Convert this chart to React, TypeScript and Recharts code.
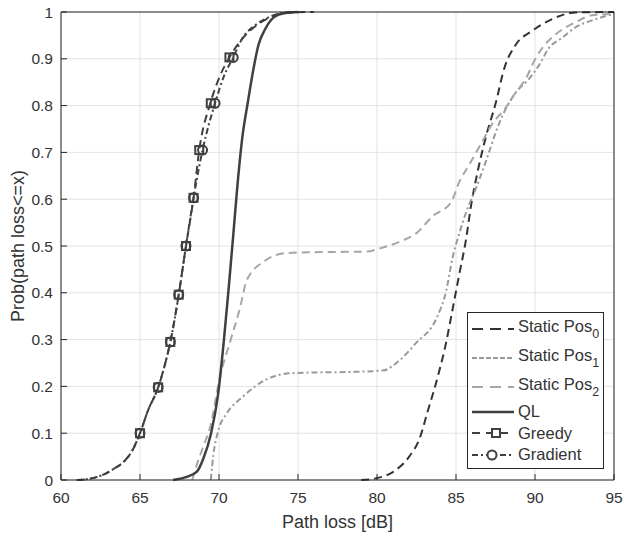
import React from 'react';
import { ComposedChart, Line, Scatter, XAxis, YAxis, CartesianGrid, Label } from 'recharts';

// [path loss dB, cumulative probability]
const STATIC_POS0: [number, number][] = [
  [79.0, 0], [80.0, 0.004], [81.0, 0.017], [82.06, 0.051], [82.69, 0.088], [83.21, 0.147],
  [83.84, 0.22], [84.37, 0.293], [84.79, 0.366], [85.21, 0.44], [85.63, 0.513], [85.95, 0.586],
  [86.37, 0.659], [86.89, 0.733], [87.52, 0.806], [88.05, 0.879], [88.78, 0.93], [89.83, 0.96],
  [91.09, 0.985], [92.56, 0.999], [95.0, 1],
];

const STATIC_POS1: [number, number][] = [
  [69.48, 0], [69.65, 0.055], [69.96, 0.106], [70.49, 0.142], [71.54, 0.179], [73.0, 0.215],
  [74.47, 0.228], [76.5, 0.23], [78.5, 0.231], [80.38, 0.234], [81.43, 0.256], [82.48, 0.293],
  [83.74, 0.344], [84.37, 0.403], [84.79, 0.476], [85.21, 0.527], [85.63, 0.571], [86.26, 0.623],
  [86.89, 0.681], [87.73, 0.762], [88.78, 0.828], [89.62, 0.857], [90.25, 0.886], [90.88, 0.923],
  [91.72, 0.945], [92.56, 0.967], [93.61, 0.982], [95.0, 0.996],
];

const STATIC_POS2: [number, number][] = [
  [68.3, 0], [68.6, 0.033], [69.0, 0.071], [69.44, 0.113], [70.07, 0.222], [70.7, 0.295],
  [71.33, 0.368], [71.75, 0.426], [72.8, 0.466], [74.27, 0.485], [76.5, 0.487], [79.33, 0.488],
  [80.17, 0.495], [81.43, 0.509], [82.48, 0.527], [83.53, 0.564], [84.68, 0.593], [85.21, 0.637],
  [85.84, 0.674], [86.58, 0.718], [87.31, 0.762], [88.05, 0.791], [88.78, 0.828], [89.41, 0.857],
  [90.04, 0.901], [90.46, 0.923], [91.3, 0.952], [92.56, 0.978], [93.61, 0.993], [95.0, 0.996],
];

const QL: [number, number][] = [
  [67.1, 0], [67.9, 0.006], [68.6, 0.018], [69.0, 0.045], [69.5, 0.1], [69.95, 0.185],
  [70.3, 0.295], [70.6, 0.405], [70.88, 0.514], [71.15, 0.623], [71.48, 0.733], [71.82, 0.806],
  [72.18, 0.878], [72.5, 0.93], [72.9, 0.962], [73.45, 0.988], [74.2, 0.998], [75.0, 1],
];

const GREEDY: [number, number][] = [
  [61.0, 0], [61.7, 0.002], [62.5, 0.009], [63.35, 0.024], [64.0, 0.04], [64.5, 0.062],
  [65.0, 0.1], [65.5, 0.148], [66.15, 0.198], [66.5, 0.237], [66.92, 0.295], [67.45, 0.396],
  [67.91, 0.5], [68.39, 0.603], [68.75, 0.705], [69.45, 0.805], [70.07, 0.864], [70.66, 0.903],
  [71.4, 0.94], [72.2, 0.967], [73.0, 0.985], [73.7, 0.995], [74.5, 0.999], [76.0, 1],
];

const GRADIENT: [number, number][] = [
  [61.0, 0], [61.7, 0.002], [62.5, 0.009], [63.35, 0.024], [64.0, 0.04], [64.5, 0.062],
  [65.0, 0.1], [65.5, 0.148], [66.15, 0.198], [66.5, 0.237], [66.92, 0.295], [67.45, 0.396],
  [67.91, 0.5], [68.39, 0.603], [68.96, 0.705], [69.75, 0.805], [70.3, 0.862], [70.9, 0.903],
  [71.5, 0.945], [72.3, 0.972], [73.1, 0.988], [74.0, 0.998], [75.0, 1],
];

const GREEDY_MARKERS: [number, number][] = [
  [65.0, 0.1], [66.15, 0.198], [66.92, 0.295], [67.45, 0.396], [67.91, 0.5],
  [68.39, 0.603], [68.75, 0.705], [69.48, 0.805], [70.66, 0.903],
];

const GRADIENT_MARKERS: [number, number][] = [
  [65.0, 0.1], [66.15, 0.198], [66.92, 0.295], [67.45, 0.396], [67.91, 0.5],
  [68.39, 0.603], [68.96, 0.705], [69.75, 0.805], [70.9, 0.903],
];

const X_TICKS = [60, 65, 70, 75, 80, 85, 90, 95];
const Y_TICKS = [0, 0.1, 0.2, 0.3, 0.4, 0.5, 0.6, 0.7, 0.8, 0.9, 1];

const FONT = '"Liberation Sans", Arial, sans-serif';
const AXIS = '#262626';
const TEXT = '#333333';
const DARK = '#404040';
const DASH = '8 5';
const DASH_DOT = '6 3 2 3';

const toPts = (arr: [number, number][]) => arr.map(([x, p]) => ({ x, p }));

const noTick = () => <g />;

const Square = (props: any) => (
  <rect x={props.cx - 4} y={props.cy - 4} width={8} height={8} fill="none" stroke={DARK} strokeWidth={2} />
);
const Circle = (props: any) => (
  <circle cx={props.cx} cy={props.cy} r={4.5} fill="none" stroke={DARK} strokeWidth={2} />
);

const LEGEND = [
  { name: 'Static Pos', sub: '0', color: '#333333', dash: '11 7', width: 2 },
  { name: 'Static Pos', sub: '1', color: '#999999', dash: '5 2', width: 2 },
  { name: 'Static Pos', sub: '2', color: '#a6a6a6', dash: '11 7', width: 2 },
  { name: 'QL', color: DARK, dash: undefined, width: 2.5 },
  { name: 'Greedy', color: DARK, dash: '8 6', width: 2, marker: 'square' },
  { name: 'Gradient', color: DARK, dash: '6 3 2 3', width: 2, marker: 'circle' },
];

function ChartLegend() {
  return (
    <div
      style={{
        position: 'absolute', left: 467, top: 312, width: 137, height: 157,
        border: `1px solid ${AXIS}`, background: '#fff', fontFamily: FONT, fontSize: 16.5,
        color: TEXT, boxSizing: 'border-box', paddingTop: 1,
      }}
    >
      {LEGEND.map((item, i) => (
        <div
          key={i}
          style={{ display: 'flex', alignItems: 'center', height: item.sub ? 29 : 21.5, whiteSpace: 'nowrap' }}
        >
          <svg width={47} height={14} style={{ marginLeft: 3, flex: 'none' }}>
            <line x1={1} y1={7} x2={43} y2={7} stroke={item.color} strokeWidth={item.width} strokeDasharray={item.dash} />
            {item.marker === 'square' && (
              <rect x={21} y={3} width={8} height={8} fill="#fff" stroke={DARK} strokeWidth={2} />
            )}
            {item.marker === 'circle' && (
              <circle cx={21} cy={7} r={4.5} fill="#fff" stroke={DARK} strokeWidth={2} />
            )}
          </svg>
          <span>
            {item.name}
            {item.sub && <sub style={{ fontSize: 12.5, verticalAlign: -6 }}>{item.sub}</sub>}
          </span>
        </div>
      ))}
    </div>
  );
}

export default function App() {
  const tickStyle = { fill: TEXT, fontSize: 15.5, fontFamily: FONT };
  return (
    <div style={{ position: 'absolute', left: 0, top: 0, width: 624, height: 536, background: '#fff' }}>
      <ComposedChart width={624} height={536} margin={{ top: 11, right: 9, bottom: 0, left: 0 }}>
        <CartesianGrid stroke="#e3e3e3" strokeWidth={1} />
        <XAxis
          dataKey="x" type="number" domain={[60, 95]} ticks={X_TICKS} allowDataOverflow
          height={56} stroke={AXIS} tickSize={-6} tickMargin={18} tick={tickStyle}
        >
          <Label value="Path loss [dB]" position="center" dy={14}
            style={{ fill: TEXT, fontSize: 18, fontFamily: FONT }} />
        </XAxis>
        <XAxis
          xAxisId="top" orientation="top" type="number" domain={[60, 95]} ticks={X_TICKS}
          height={1} stroke={AXIS} tickSize={-6} tick={noTick}
        />
        <YAxis
          type="number" domain={[0, 1]} ticks={Y_TICKS} width={61} stroke={AXIS}
          tickSize={-6} tickMargin={14} tick={tickStyle} tickFormatter={(v) => String(v)}
        >
          <Label value="Prob(path loss<=x)" angle={-90} position="center" dx={-13}
            style={{ fill: TEXT, fontSize: 18, fontFamily: FONT, textAnchor: 'middle' }} />
        </YAxis>
        <YAxis
          yAxisId="right" orientation="right" type="number" domain={[0, 1]} ticks={Y_TICKS}
          width={1} stroke={AXIS} tickSize={-6} tick={noTick}
        />

        <Line data={toPts(STATIC_POS0)} dataKey="p" type="monotone" stroke="#333333" strokeWidth={2}
          strokeDasharray={DASH} dot={false} activeDot={false} isAnimationActive={false} />
        <Line data={toPts(STATIC_POS1)} dataKey="p" type="monotone" stroke="#999999" strokeWidth={2}
          strokeDasharray={DASH_DOT} dot={false} activeDot={false} isAnimationActive={false} />
        <Line data={toPts(STATIC_POS2)} dataKey="p" type="monotone" stroke="#a6a6a6" strokeWidth={2}
          strokeDasharray={DASH} dot={false} activeDot={false} isAnimationActive={false} />
        <Line data={toPts(QL)} dataKey="p" type="monotone" stroke={DARK} strokeWidth={2.5}
          dot={false} activeDot={false} isAnimationActive={false} />
        <Line data={toPts(GREEDY)} dataKey="p" type="monotone" stroke={DARK} strokeWidth={2}
          strokeDasharray={DASH} dot={false} activeDot={false} isAnimationActive={false} />
        <Line data={toPts(GRADIENT)} dataKey="p" type="monotone" stroke={DARK} strokeWidth={2}
          strokeDasharray={DASH_DOT} dot={false} activeDot={false} isAnimationActive={false} />
        <Scatter data={toPts(GREEDY_MARKERS)} dataKey="p" shape={Square} isAnimationActive={false} />
        <Scatter data={toPts(GRADIENT_MARKERS)} dataKey="p" shape={Circle} isAnimationActive={false} />
      </ComposedChart>
      <ChartLegend />
    </div>
  );
}
